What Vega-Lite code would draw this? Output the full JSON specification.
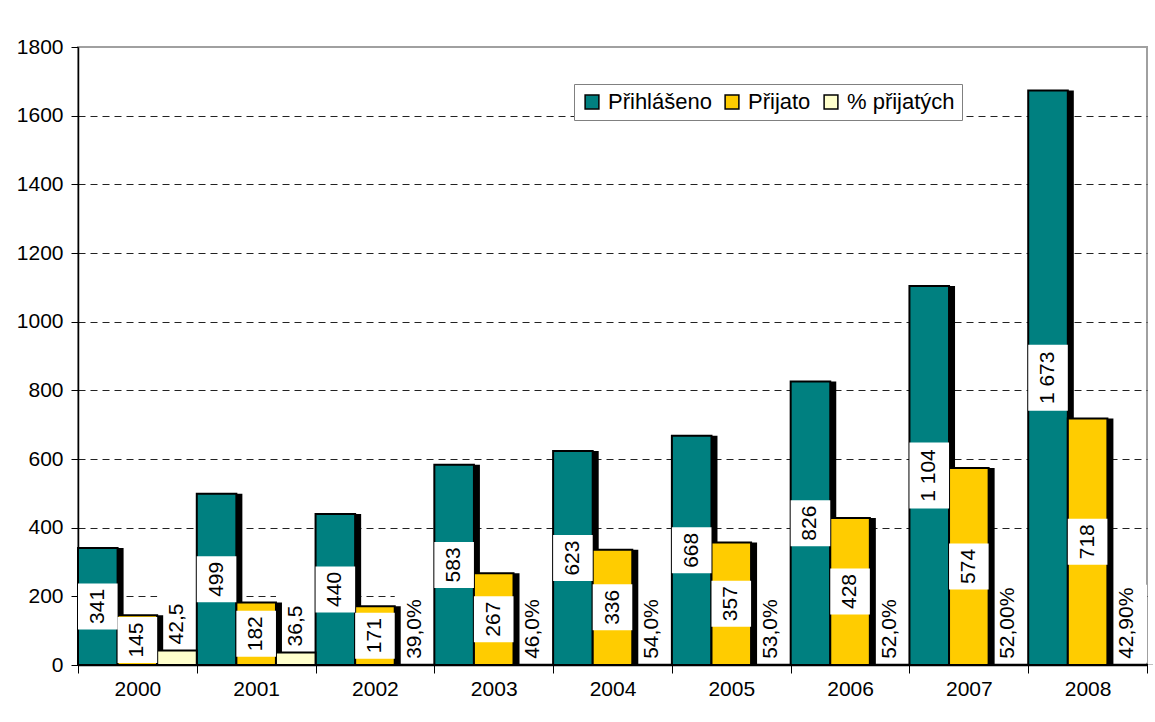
{
  "$schema": "https://vega.github.io/schema/vega-lite/v6.json",
  "width": 1069,
  "height": 618,
  "autosize": {"type": "none"},
  "padding": {"left": 78, "top": 47, "right": 8, "bottom": 57},
  "background": "white",
  "config": {
    "font": "Liberation Sans",
    "view": {"stroke": "#a0a0a0", "strokeWidth": 2},
    "axis": {"labelFont": "Liberation Sans", "labelFontSize": 21, "labelColor": "black", "domainColor": "black", "tickColor": "black", "title": null}
  },
  "data": {
    "values": [
      {"rok": "2000", "serie": "Přihlášeno", "hodnota": 341, "popis": "341"},
      {"rok": "2001", "serie": "Přihlášeno", "hodnota": 499, "popis": "499"},
      {"rok": "2002", "serie": "Přihlášeno", "hodnota": 440, "popis": "440"},
      {"rok": "2003", "serie": "Přihlášeno", "hodnota": 583, "popis": "583"},
      {"rok": "2004", "serie": "Přihlášeno", "hodnota": 623, "popis": "623"},
      {"rok": "2005", "serie": "Přihlášeno", "hodnota": 668, "popis": "668"},
      {"rok": "2006", "serie": "Přihlášeno", "hodnota": 826, "popis": "826"},
      {"rok": "2007", "serie": "Přihlášeno", "hodnota": 1104, "popis": "1 104"},
      {"rok": "2008", "serie": "Přihlášeno", "hodnota": 1673, "popis": "1 673"},
      {"rok": "2000", "serie": "Přijato", "hodnota": 145, "popis": "145"},
      {"rok": "2001", "serie": "Přijato", "hodnota": 182, "popis": "182"},
      {"rok": "2002", "serie": "Přijato", "hodnota": 171, "popis": "171"},
      {"rok": "2003", "serie": "Přijato", "hodnota": 267, "popis": "267"},
      {"rok": "2004", "serie": "Přijato", "hodnota": 336, "popis": "336"},
      {"rok": "2005", "serie": "Přijato", "hodnota": 357, "popis": "357"},
      {"rok": "2006", "serie": "Přijato", "hodnota": 428, "popis": "428"},
      {"rok": "2007", "serie": "Přijato", "hodnota": 574, "popis": "574"},
      {"rok": "2008", "serie": "Přijato", "hodnota": 718, "popis": "718"},
      {"rok": "2000", "serie": "% přijatých", "hodnota": 42.5, "popis": "42,5"},
      {"rok": "2001", "serie": "% přijatých", "hodnota": 36.5, "popis": "36,5"},
      {"rok": "2002", "serie": "% přijatých", "hodnota": 0.39, "popis": "39,0%"},
      {"rok": "2003", "serie": "% přijatých", "hodnota": 0.46, "popis": "46,0%"},
      {"rok": "2004", "serie": "% přijatých", "hodnota": 0.54, "popis": "54,0%"},
      {"rok": "2005", "serie": "% přijatých", "hodnota": 0.53, "popis": "53,0%"},
      {"rok": "2006", "serie": "% přijatých", "hodnota": 0.52, "popis": "52,0%"},
      {"rok": "2007", "serie": "% přijatých", "hodnota": 0.52, "popis": "52,00%"},
      {"rok": "2008", "serie": "% přijatých", "hodnota": 0.429, "popis": "42,90%"}
    ]
  },
  "encoding": {
    "x": {
      "field": "rok", "type": "nominal",
      "scale": {"paddingInner": 0, "paddingOuter": 0},
      "axis": {"labelAngle": 0, "tickBand": "extent", "tickSize": 8, "labelPadding": 5, "domainWidth": 1.5, "grid": false}
    }
  },
  "layer": [
    {
      "encoding": {
        "y": {
          "field": "hodnota", "type": "quantitative",
          "scale": {"domain": [0, 1800], "nice": false},
          "axis": {
            "values": [0, 200, 400, 600, 800, 1000, 1200, 1400, 1600, 1800],
            "format": "d",
            "tickSize": 7, "labelPadding": 8, "domainWidth": 1.5,
            "grid": true, "gridColor": "#222", "gridDash": [7, 5], "gridWidth": 1,
            "gridOpacity": {"condition": {"test": "datum.value === 0 || datum.value === 1800", "value": 0}, "value": 1}
          }
        }
      },
      "layer": [
        {
          "transform": [{"filter": "datum.serie === '% přijatých'"}],
          "mark": {"type": "bar", "color": "white", "yOffset": -80, "y2Offset": -2},
          "encoding": {
            "y2": {"field": "hodnota"},
            "xOffset": {"field": "serie", "type": "nominal", "scale": {"domain": ["Přihlášeno", "Přijato", "% přijatých"], "paddingInner": 0, "paddingOuter": 0}}
          }
        },
        {
          "mark": {"type": "bar", "color": "black"},
          "encoding": {
            "xOffset": {
              "field": "serie", "type": "nominal",
              "scale": {"domain": ["Přihlášeno", "Přijato", "% přijatých"], "paddingInner": 0, "paddingOuter": 0, "range": [6, 124.777]}
            }
          }
        },
        {
          "mark": {"type": "bar", "stroke": "black", "strokeWidth": 2},
          "encoding": {
            "xOffset": {"field": "serie", "type": "nominal", "scale": {"domain": ["Přihlášeno", "Přijato", "% přijatých"], "paddingInner": 0, "paddingOuter": 0}},
            "color": {
              "field": "serie", "type": "nominal",
              "scale": {"domain": ["Přihlášeno", "Přijato", "% přijatých"], "range": ["#008080", "#FFCC00", "#FFFFCC"]},
              "legend": {
                "title": null, "orient": "none", "legendX": 496, "legendY": 37, "direction": "horizontal",
                "symbolType": "square", "symbolSize": 190, "symbolStrokeColor": "black", "symbolStrokeWidth": 1.5,
                "labelFontSize": 22, "labelFont": "Liberation Sans", "labelColor": "black",
                "fillColor": "white", "strokeColor": "#808080", "padding": 7, "columnPadding": 9, "labelOffset": 5
              }
            }
          }
        },
        {
          "transform": [{"filter": "datum.serie === '% přijatých'"}],
          "mark": {"type": "text", "angle": 270, "align": "left", "baseline": "middle", "dx": 6, "fontSize": 21, "font": "Liberation Sans", "color": "black"},
          "encoding": {
            "x": {"field": "rok", "type": "nominal", "bandPosition": 0.8333},
            "text": {"field": "popis"}
          }
        }
      ],
      "resolve": {"scale": {"xOffset": "independent"}}
    },
    {
      "transform": [{"filter": "datum.serie !== '% přijatých'"}],
      "encoding": {
        "y": {
          "field": "hodnota", "type": "quantitative",
          "scale": {"domain": [0, 3600], "nice": false},
          "axis": null
        }
      },
      "layer": [
        {
          "transform": [{"filter": "length(datum.popis) <= 3"}],
          "mark": {"type": "bar", "color": "white", "yOffset": -23, "y2Offset": 23},
          "encoding": {
            "y2": {"field": "hodnota"},
            "xOffset": {"field": "serie", "type": "nominal", "scale": {"domain": ["Přihlášeno", "Přijato", "% přijatých"], "paddingInner": 0, "paddingOuter": 0}}
          }
        },
        {
          "transform": [{"filter": "length(datum.popis) > 3"}],
          "mark": {"type": "bar", "color": "white", "yOffset": -33, "y2Offset": 33},
          "encoding": {
            "y2": {"field": "hodnota"},
            "xOffset": {"field": "serie", "type": "nominal", "scale": {"domain": ["Přihlášeno", "Přijato", "% přijatých"], "paddingInner": 0, "paddingOuter": 0}}
          }
        },
        {
          "transform": [{"filter": "datum.serie === 'Přihlášeno'"}],
          "mark": {"type": "text", "angle": 270, "align": "center", "baseline": "middle", "fontSize": 21, "font": "Liberation Sans", "color": "black"},
          "encoding": {
            "x": {"field": "rok", "type": "nominal", "bandPosition": 0.1667},
            "text": {"field": "popis"}
          }
        },
        {
          "transform": [{"filter": "datum.serie === 'Přijato'"}],
          "mark": {"type": "text", "angle": 270, "align": "center", "baseline": "middle", "fontSize": 21, "font": "Liberation Sans", "color": "black"},
          "encoding": {
            "x": {"field": "rok", "type": "nominal", "bandPosition": 0.5},
            "text": {"field": "popis"}
          }
        }
      ]
    }
  ],
  "resolve": {"scale": {"y": "independent", "xOffset": "independent"}, "axis": {"y": "independent"}}
}
